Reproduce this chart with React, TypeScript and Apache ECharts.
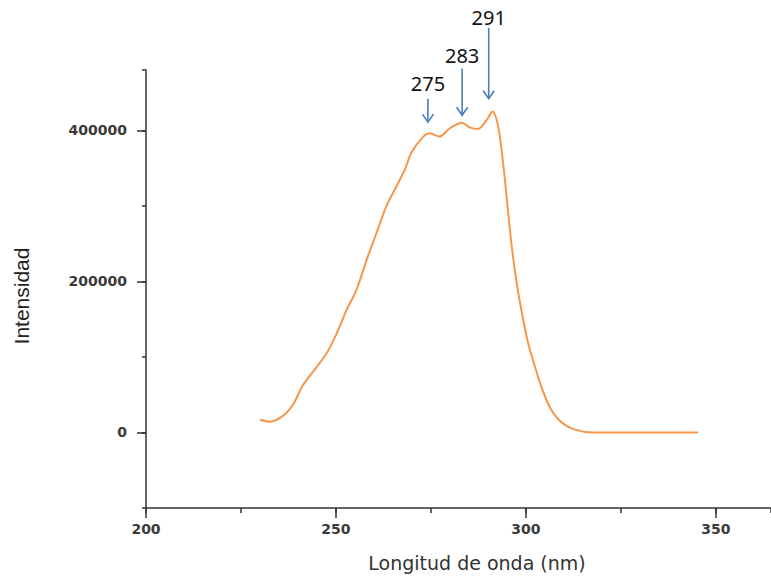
import React, { useEffect, useRef } from 'react';
import * as echarts from 'echarts';

// ---- data ----
const WAVELENGTHS = [230, 232.6, 236.1, 238.8, 241, 243.2, 247.5, 250.2, 252.8, 255.4, 258.1, 260.7, 263.3, 266, 268.2, 269.9, 273, 274.7, 277.2, 280, 283.1, 285.3, 287.4, 289.7, 291.2, 292.3, 293.2, 294.5, 295.8, 296.7, 298, 299.3, 300.6, 302.4, 304.1, 306.3, 308.9, 312.5, 317.7, 345.3];
const INTENSITY = [16900, 14300, 22300, 37800, 60000, 75600, 104500, 131200, 162300, 189000, 229000, 264500, 300000, 326700, 349000, 371000, 391800, 396300, 391800, 402900, 410300, 403700, 402000, 413900, 424900, 413900, 389700, 333000, 267000, 229000, 184500, 149000, 117900, 86700, 60000, 33300, 15600, 4500, 0, 0];

const PEAK_LABELS = ['275', '283', '291'];
const PEAK_ARROW_X = [274.2, 283.2, 290.2];
const PEAK_ARROW_TOP = [442000, 482000, 535600];
const PEAK_ARROW_TIP = [411000, 420000, 442000];
const PEAK_LABEL_Y = [461600, 499000, 550000];

const X_NAME = 'Longitud de onda (nm)';
const Y_NAME = 'Intensidad';

const X_MIN = 200;
const X_MAX = 364.5;
const X_STEP = 25;
const X_LABEL_STEP = 50;
const X_LABEL_MAX = 350;
const Y_MIN = -100000;
const Y_MAX = 480000;
const Y_STEP = 100000;
const Y_LABEL_STEP = 200000;
const Y_LABEL_MIN = 0;
const Y_LABEL_MAX = 400000;

const W = 771;
const H = 578;
const GRID = { left: 146, top: 70, right: 0, bottom: 70 };

const AXIS_COLOR = '#333';
const LABEL_FONT = { fontFamily: 'DejaVu Sans', fontSize: 14, fontWeight: 'bold' as const, color: '#3a3a3a' };

export default function App() {
  const ref = useRef<HTMLDivElement>(null);

  useEffect(() => {
    if (!ref.current) return;
    const chart = echarts.init(ref.current, undefined, { renderer: 'svg' });

    const plotW = W - GRID.left - GRID.right;
    const plotH = H - GRID.top - GRID.bottom;
    const yRange = Y_MAX - Y_MIN;
    const xRange = X_MAX - X_MIN;
    const g2 = {
      left: GRID.left,
      right: GRID.right + ((X_MAX - X_LABEL_MAX) / xRange) * plotW,
      top: GRID.top + ((Y_MAX - Y_LABEL_MAX) / yRange) * plotH,
      bottom: GRID.bottom + ((Y_LABEL_MIN - Y_MIN) / yRange) * plotH,
    };
    const xOffset = ((Y_LABEL_MIN - Y_MIN) / yRange) * plotH;

    const data = WAVELENGTHS.map((w, i) => [w, INTENSITY[i]]);
    const plain = (v: number) => String(v);

    chart.setOption({
      animation: false,
      backgroundColor: '#fff',
      grid: [
        { ...GRID, containLabel: false },
        { ...g2, containLabel: false },
      ],
      xAxis: [
        {
          type: 'value', gridIndex: 0, min: X_MIN, max: X_MAX, interval: X_STEP,
          axisLine: { show: true, onZero: false, lineStyle: { color: AXIS_COLOR, width: 1.5 } },
          axisTick: { show: true, length: 5, lineStyle: { color: AXIS_COLOR, width: 1.5 } },
          axisLabel: { show: false },
          splitLine: { show: false },
        },
        {
          type: 'value', gridIndex: 1, min: X_MIN, max: X_LABEL_MAX, interval: X_LABEL_STEP,
          position: 'bottom', offset: xOffset,
          axisLine: { show: false, onZero: false },
          axisTick: { show: true, length: 10, lineStyle: { color: AXIS_COLOR, width: 1.5 } },
          axisLabel: { show: true, margin: 14, formatter: plain, ...LABEL_FONT },
          splitLine: { show: false },
        },
      ],
      yAxis: [
        {
          type: 'value', gridIndex: 0, min: Y_MIN, max: Y_MAX, interval: Y_STEP,
          axisLine: { show: true, onZero: false, lineStyle: { color: AXIS_COLOR, width: 1.5 } },
          axisTick: { show: true, length: 4, lineStyle: { color: AXIS_COLOR, width: 1.5 } },
          axisLabel: { show: false },
          splitLine: { show: false },
        },
        {
          type: 'value', gridIndex: 1, min: Y_LABEL_MIN, max: Y_LABEL_MAX, interval: Y_LABEL_STEP,
          axisLine: { show: false, onZero: false },
          axisTick: { show: true, length: 9, lineStyle: { color: AXIS_COLOR, width: 1.5 } },
          axisLabel: { show: true, margin: 19, formatter: plain, ...LABEL_FONT },
          splitLine: { show: false },
        },
      ],
      series: [
        {
          type: 'line', xAxisIndex: 0, yAxisIndex: 0, data,
          showSymbol: false, smooth: 0.3,
          lineStyle: { color: '#f7964a', width: 2 },
          silent: true,
        },
      ],
    });

    const px = (x: number, y: number) =>
      chart.convertToPixel({ xAxisIndex: 0, yAxisIndex: 0 }, [x, y]) as number[];

    const graphics: any[] = [];
    PEAK_LABELS.forEach((label, i) => {
      const top = px(PEAK_ARROW_X[i], PEAK_ARROW_TOP[i]);
      const tip = px(PEAK_ARROW_X[i], PEAK_ARROW_TIP[i]);
      const lab = px(PEAK_ARROW_X[i], PEAK_LABEL_Y[i]);
      const arrowStyle = { stroke: '#4a7ebb', lineWidth: 1.6, fill: 'none' };
      graphics.push({ type: 'line', shape: { x1: top[0], y1: top[1], x2: tip[0], y2: tip[1] }, style: arrowStyle, silent: true });
      graphics.push({ type: 'polyline', shape: { points: [[tip[0] - 5.5, tip[1] - 8], [tip[0], tip[1]], [tip[0] + 5.5, tip[1] - 8]] }, style: arrowStyle, silent: true });
      graphics.push({
        type: 'text', x: lab[0], y: lab[1], silent: true,
        style: { text: label, fontFamily: 'Noto Sans', fontSize: 20, fill: '#111', align: 'center', verticalAlign: 'middle' },
      });
    });
    graphics.push({
      type: 'text', x: 21, y: 296, rotation: Math.PI / 2, silent: true,
      style: { text: Y_NAME, fontFamily: 'Liberation Sans', fontSize: 21, fill: '#222', align: 'center', verticalAlign: 'middle' },
    });
    graphics.push({
      type: 'text', x: 477, y: 563, silent: true,
      style: { text: X_NAME, fontFamily: 'DejaVu Sans', fontSize: 19, fill: '#333', align: 'center', verticalAlign: 'middle' },
    });
    chart.setOption({ graphic: graphics });

    return () => chart.dispose();
  }, []);

  return <div ref={ref} style={{ position: 'absolute', left: 0, top: 0, width: W, height: H }} />;
}
